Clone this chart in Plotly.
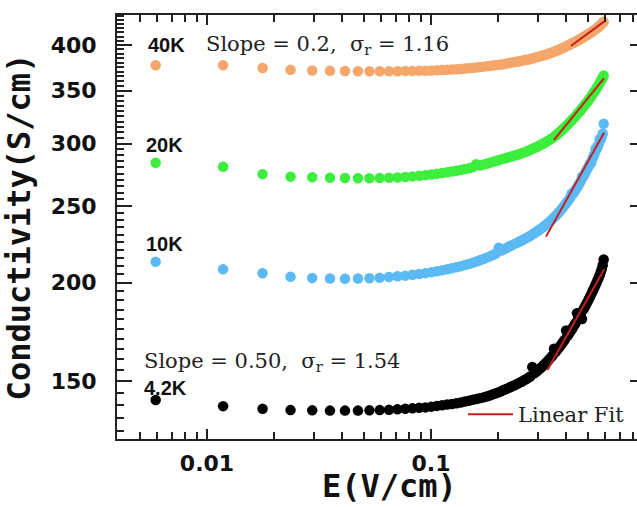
import plotly.graph_objects as go

# ---------------- data ----------------
E_field = [0.0059, 0.0118, 0.0177, 0.0236, 0.0295, 0.0354, 0.0413, 0.0472, 0.0531, 0.0590,
           0.0649, 0.0708, 0.0767, 0.0826, 0.0885, 0.0944, 0.1003, 0.1062, 0.1121, 0.1180,
           0.1239, 0.1298, 0.1357, 0.1416, 0.1475, 0.1534, 0.1593, 0.1652, 0.1711, 0.1770,
           0.1829, 0.1888, 0.1947, 0.2006, 0.2065, 0.2124, 0.2183, 0.2242, 0.2301, 0.2360,
           0.2419, 0.2478, 0.2537, 0.2596, 0.2655, 0.2714, 0.2773, 0.2832, 0.2891, 0.2950,
           0.3009, 0.3068, 0.3127, 0.3186, 0.3245, 0.3304, 0.3363, 0.3422, 0.3481, 0.3540,
           0.3599, 0.3658, 0.3717, 0.3776, 0.3835, 0.3894, 0.3953, 0.4012, 0.4071, 0.4130,
           0.4189, 0.4248, 0.4307, 0.4366, 0.4425, 0.4484, 0.4543, 0.4602, 0.4661, 0.4720,
           0.4779, 0.4838, 0.4897, 0.4956, 0.5015, 0.5074, 0.5133, 0.5192, 0.5251, 0.5310,
           0.5369, 0.5428, 0.5487, 0.5546, 0.5605, 0.5664, 0.5723, 0.5782, 0.5841, 0.5900]

sigma_40K = [377, 377, 374, 372, 371.3, 371, 370.8, 370.6, 370.5, 370.5,
             370.5, 370.6, 370.7, 370.8, 371, 371.1, 371.3, 371.5, 371.8, 372,
             372.3, 372.6, 373, 373.4, 373.8, 374.2, 374.6, 375, 375.5, 375.9,
             376.3, 376.7, 377.2, 377.6, 378, 378.5, 379, 379.5, 380, 380.5,
             381, 381.5, 382, 382.5, 383, 383.5, 384, 384.6, 385.2, 385.8,
             386.4, 387, 387.6, 388.2, 388.8, 389.5, 390.1, 390.8, 391.5, 392.2,
             392.9, 393.6, 394.4, 395.2, 396, 396.8, 397.6, 398.4, 399.2, 400,
             400.8, 401.6, 402.4, 403.2, 404, 404.8, 405.6, 406.5, 407.3, 408.2,
             409, 409.9, 410.7, 411.6, 412.5, 413.4, 414.3, 415.2, 416.1, 417,
             418, 418.9, 419.8, 420.8, 421.9, 423, 424.2, 425.5, 426.7, 428]

sigma_20K = [283.8, 280.5, 274.5, 272.5, 272, 271.6, 271.4, 271.3, 271.3, 271.4,
             271.6, 271.9, 272.3, 272.7, 273.2, 273.7, 274.2, 274.8, 275.4, 276,
             276.6, 277.3, 277.9, 278.6, 279.3, 280, 282.5, 281.5, 282.2, 283,
             283.7, 284.5, 285.2, 286, 286.6, 287.3, 287.9, 288.6, 289.2, 289.8,
             290.4, 291, 291.7, 292.4, 293.1, 293.8, 294.6, 295.4, 296.2, 297,
             297.8, 298.7, 299.5, 300.4, 301.3, 302.2, 303.1, 304, 305, 306,
             307.2, 308.4, 309.6, 310.8, 312, 313.3, 314.6, 315.9, 317.2, 318.5,
             319.8, 321.2, 322.5, 323.9, 325.3, 326.7, 328.1, 329.5, 331, 332.4,
             333.8, 335.3, 336.8, 338.3, 339.8, 341.3, 342.8, 344.4, 346, 347.6,
             349.2, 350.9, 352.6, 354.3, 356.1, 357.9, 359.8, 361.8, 363.9, 366]

sigma_10K = [212.7, 208, 205.6, 203.5, 202.8, 202.5, 202.4, 202.5, 202.7, 203,
             203.4, 203.8, 204.2, 204.7, 205.2, 205.7, 206.2, 206.8, 207.4, 208,
             208.6, 209.2, 209.9, 210.6, 211.3, 212, 212.8, 213.6, 214.4, 215.2,
             216, 216.9, 217.8, 221.5, 219.7, 220.6, 221.5, 222.4, 223.2, 224,
             224.7, 225.5, 226.2, 227, 227.8, 228.6, 229.4, 230.3, 231.1, 232,
             232.9, 233.8, 234.7, 235.6, 236.5, 237.5, 238.6, 239.7, 240.8, 242,
             243.1, 244.3, 245.5, 246.8, 248.1, 249.4, 250.8, 252.2, 253.6, 255,
             256.5, 259.5, 259.5, 261, 262.5, 264, 265.6, 267.3, 269, 272.5,
             272.4, 274.2, 276, 277.8, 279.6, 281.5, 283.4, 284, 287.2, 289.2,
             291.2, 295.5, 295.2, 297.3, 299.4, 304, 303.7, 306, 309, 318]

sigma_4K = [142.1, 139.6, 138.5, 138, 137.9, 137.8, 137.8, 137.8, 137.9, 138,
            138.1, 138.3, 138.5, 138.7, 138.9, 139.1, 139.4, 139.7, 140, 140.3,
            140.5, 140.8, 141.1, 141.5, 141.8, 142.2, 142.5, 142.9, 143.2, 143.6,
            144, 144.5, 144.9, 145.4, 145.9, 146.4, 146.9, 147.4, 147.9, 148.4,
            148.9, 149.4, 149.9, 150.5, 151, 151.6, 152.2, 156.5, 153.6, 154.3,
            155, 155.8, 156.6, 157.4, 158.2, 159, 159.9, 160.8, 161.7, 165,
            163.5, 164.5, 165.4, 166.4, 167.4, 168.4, 169.4, 174, 171.4, 172.5,
            173.5, 174.6, 175.7, 176.8, 177.9, 183, 180.2, 181.3, 182.5, 180,
            184.8, 186, 187.2, 188.4, 189.6, 190.9, 192.2, 193.5, 194.8, 196.1,
            197.4, 198.8, 200.2, 201.6, 203, 204.5, 206.2, 208, 210.5, 214]

fit_E_40K = [0.421, 0.592]
fit_40K = [398.8, 428.1]
fit_E_20K = [0.354, 0.592]
fit_20K = [303.3, 362.9]
fit_E_10K = [0.326, 0.592]
fit_10K = [228.8, 309.7]
fit_E_4K = [0.331, 0.593]
fit_4K = [155.1, 208.0]

y_major = [150, 200, 250, 300, 350, 400]
y_minor = [v for v in range(130, 440, 5) if v not in y_major]
x_major = [0.01, 0.1]
x_major_text = ["0.01", "0.1"]
x_minor = [0.004, 0.005, 0.006, 0.007, 0.008, 0.009,
           0.02, 0.03, 0.04, 0.05, 0.06, 0.07, 0.08, 0.09,
           0.2, 0.3, 0.4, 0.5, 0.6, 0.7, 0.8]

series = [
    ("4.2K", sigma_4K, "#000000"),
    ("10K", sigma_10K, "#5BB9F4"),
    ("20K", sigma_20K, "#3DEE3D"),
    ("40K", sigma_40K, "#F5A66A"),
]
fits = [(fit_E_4K, fit_4K), (fit_E_10K, fit_10K), (fit_E_20K, fit_20K), (fit_E_40K, fit_40K)]

FIT_COLOR = "#C81E1E"
AX_COLOR = "#222222"

# ---------------- figure ----------------
W, H = 637, 507
L, R, T, B = 117, 0, 15, 68
pw, ph = W - L - R, H - T - B

def px(x):
    return (x - L) / pw

def py(y):
    return (H - B - y) / ph

fig = go.Figure()
for name, vals, col in series:
    fig.add_trace(go.Scatter(x=E_field, y=vals, mode="markers", name=name,
                             marker=dict(size=10.5, color=col, line=dict(width=0)),
                             showlegend=False))

for i, (fx, fy) in enumerate(fits):
    fig.add_trace(go.Scatter(x=fx, y=fy, mode="lines", name="Linear Fit",
                             line=dict(color=FIT_COLOR, width=2),
                             showlegend=(i == 0),
                             yaxis="y2" if i == 3 else "y"))

xr = [-2.4018, -0.0804]
yr = [2.1033, 2.6400]

tickfont = dict(family="DejaVu Sans", size=22, color="#111111", weight="bold")
titlefont = dict(family="DejaVu Sans Mono", size=32, color="#111111", weight="bold")

fig.update_layout(
    width=W, height=H,
    margin=dict(l=L, r=R, t=T, b=B, pad=0),
    paper_bgcolor="white", plot_bgcolor="white",
    xaxis=dict(type="log", range=xr, showgrid=False, zeroline=False,
               showline=True, linecolor=AX_COLOR, linewidth=2, mirror="ticks",
               ticks="inside", ticklen=10, tickwidth=1.5, tickcolor=AX_COLOR,
               tickvals=x_major, ticktext=x_major_text, tickfont=tickfont,
               ticklabelstandoff=4,
               minor=dict(tickvals=x_minor, ticks="inside", ticklen=7,
                          tickwidth=1.5, tickcolor=AX_COLOR, showgrid=False),
               automargin=False),
    yaxis=dict(type="log", range=yr, showgrid=False, zeroline=False,
               showline=True, linecolor=AX_COLOR, linewidth=2, mirror=False,
               ticks="inside", ticklen=15, tickwidth=1.5, tickcolor=AX_COLOR,
               tickvals=y_major, tickfont=tickfont, ticklabelstandoff=14,
               minor=dict(tickvals=y_minor, ticks="inside", ticklen=7,
                          tickwidth=1.5, tickcolor=AX_COLOR, showgrid=False),
               title=dict(text="Conductivity(S/cm)", font=titlefont, standoff=10),
               automargin=False),
    yaxis2=dict(type="log", range=yr, overlaying="y", side="right",
                showgrid=False, zeroline=False, showline=False,
                ticks="inside", ticklen=7, tickwidth=1.5, tickcolor=AX_COLOR,
                tickvals=y_major, showticklabels=False, automargin=False),
    legend=dict(x=px(463), y=py(414.5), xanchor="left", yanchor="middle",
                bgcolor="rgba(0,0,0,0)", borderwidth=0, itemwidth=45,
                font=dict(family="DejaVu Serif", size=21, color="#222222")),
)

# x-axis title
fig.add_annotation(text="E(V/cm)", x=px(389.5), y=py(507), xref="paper", yref="paper",
                   xanchor="center", yanchor="bottom", showarrow=False, font=titlefont)

lab_font = dict(family="Liberation Sans", size=20, color="#111111", weight="bold")
for text, cx, cy in [("40K", 166.7, 45.3), ("20K", 164.5, 145.5),
                     ("10K", 164, 244), ("4.2K", 165.5, 388.3)]:
    fig.add_annotation(text=text, x=px(cx), y=py(cy), xref="paper", yref="paper",
                       xanchor="center", yanchor="middle", showarrow=False, font=lab_font)

slope_font = dict(family="DejaVu Serif", size=21, color="#222222")
fig.add_annotation(text="Slope = 0.2,  σ<sub>r</sub> = 1.16", x=px(204), y=py(45),
                   xref="paper", yref="paper", xanchor="left", yanchor="middle",
                   showarrow=False, font=slope_font)
fig.add_annotation(text="Slope = 0.50,  σ<sub>r</sub> = 1.54", x=px(142), y=py(362),
                   xref="paper", yref="paper", xanchor="left", yanchor="middle",
                   showarrow=False, font=slope_font)

fig.write_html("out.html")
